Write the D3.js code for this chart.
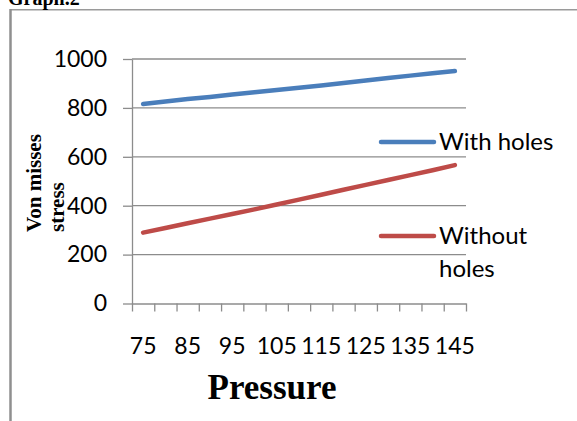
<!DOCTYPE html>
<html>
<head>
<meta charset="utf-8">
<script src="https://cdn.jsdelivr.net/npm/d3@7"></script>
<style>
  html, body { margin: 0; padding: 0; background: #fff; }
  svg { display: block; }
</style>
</head>
<body>
<div id="chart"></div>
<script>
const pressure = [75, 80, 85, 90, 95, 100, 105, 110, 115, 120, 125, 130, 135, 140, 145];
const withHoles = [816, 826, 836, 845, 855, 864, 873, 882, 892, 902, 912, 922, 932, 942, 951];
const withoutHoles = [290, 309, 328, 347, 366, 385, 405, 425, 445, 465, 485, 505, 525, 545, 566];
const yTicks = [0, 200, 400, 600, 800, 1000];
const xLabels = [75, 85, 95, 105, 115, 125, 135, 145];

const W = 577, H = 421;
const plot = { left: 132, right: 466, top: 59, bottom: 303.5 };
const gridColor = '#8c8c8c';

const svg = d3.select('#chart').append('svg')
  .attr('width', W)
  .attr('height', H);

// outer frame (partly cropped)
svg.append('line').attr('x1', 10).attr('x2', W).attr('y1', 9.75).attr('y2', 9.75)
  .attr('stroke', '#9a9a9a').attr('stroke-width', 1.5);
svg.append('line').attr('x1', 10.5).attr('x2', 10.5).attr('y1', 9).attr('y2', H)
  .attr('stroke', '#8f8f8f').attr('stroke-width', 2.5);

// title, cut at the top like the source
svg.append('text')
  .attr('x', 8).attr('y', 5)
  .style('font-family', '"Liberation Serif", "Times New Roman", serif')
  .style('font-weight', 'bold')
  .style('font-size', '20px')
  .text('Graph.2');

const x = d3.scaleBand().domain(pressure).range([plot.left, plot.right]).padding(0);
const xEdge = d3.scaleLinear().domain([0, pressure.length]).range([plot.left, plot.right]);
const y = d3.scaleLinear().domain([0, 1000]).range([plot.bottom, plot.top]);
const cx = d => x(d) + x.bandwidth() / 2;

const labelFont = sel => sel
  .style('font-family', 'Lato, "Noto Sans", sans-serif')
  .style('font-size', '23px')
  .attr('fill', '#000');

// gridlines
svg.append('g').selectAll('line').data(yTicks.filter(v => v > 0)).enter().append('line')
  .attr('x1', plot.left).attr('x2', plot.right)
  .attr('y1', d => y(d)).attr('y2', d => y(d))
  .attr('stroke', gridColor).attr('stroke-width', 1.3);

// y axis
const yAxis = svg.append('g')
  .attr('transform', `translate(${plot.left},0)`)
  .call(d3.axisLeft(y).tickValues(yTicks).tickFormat(d3.format('d')).tickSize(9).tickPadding(16).tickSizeOuter(0));
yAxis.select('.domain').attr('stroke', gridColor).attr('stroke-width', 1.3);
yAxis.selectAll('.tick line').attr('stroke', gridColor).attr('stroke-width', 1.3);
yAxis.selectAll('.tick text').call(labelFont);

// x axis ticks at category edges
const xAxis = svg.append('g')
  .attr('transform', `translate(0,${plot.bottom})`)
  .call(d3.axisBottom(xEdge).tickValues(d3.range(pressure.length + 1)).tickFormat('').tickSize(8).tickSizeOuter(0));
xAxis.select('.domain').attr('stroke', gridColor).attr('stroke-width', 1.3);
xAxis.selectAll('.tick line').attr('stroke', gridColor).attr('stroke-width', 1.3);

// x labels every other category
const xLab = svg.append('g')
  .attr('transform', `translate(0,${plot.bottom})`)
  .call(d3.axisBottom(x).tickValues(xLabels).tickSize(0).tickPadding(34));
xLab.select('.domain').remove();
xLab.selectAll('.tick text').call(labelFont);

// series
const line = d3.line().x((d, i) => cx(pressure[i])).y(d => y(d));
const series = [
  { name: 'With holes', values: withHoles, color: '#4a7ebb' },
  { name: 'Without holes', values: withoutHoles, color: '#be4b48' }
];
series.forEach(s => {
  svg.append('path')
    .datum(s.values)
    .attr('d', line)
    .attr('fill', 'none')
    .attr('stroke', s.color)
    .attr('stroke-width', 4.5)
    .attr('stroke-linecap', 'round')
    .attr('stroke-linejoin', 'round');
});

// legend
const legendRows = [
  { s: series[0], y: 142, lines: ['With holes'] },
  { s: series[1], y: 236, lines: ['Without', 'holes'] }
];
legendRows.forEach(r => {
  svg.append('line')
    .attr('x1', 381).attr('x2', 434)
    .attr('y1', r.y).attr('y2', r.y)
    .attr('stroke', r.s.color).attr('stroke-width', 4.5).attr('stroke-linecap', 'round');
  const t = svg.append('text').attr('x', 439).attr('y', r.y + 8)
    .style('font-family', 'Lato, "Noto Sans", sans-serif')
    .style('font-size', '24px')
    .attr('fill', '#000');
  r.lines.forEach((l, i) => {
    t.append('tspan').attr('x', 439).attr('dy', i === 0 ? 0 : 33).text(l);
  });
});

// axis titles
svg.append('text')
  .attr('x', 272).attr('y', 399)
  .attr('text-anchor', 'middle')
  .style('font-family', '"Liberation Serif", "Times New Roman", serif')
  .style('font-weight', 'bold')
  .style('font-size', '35px')
  .text('Pressure');

const yTitle = svg.append('text')
  .attr('transform', 'translate(41,232) rotate(-90)')
  .style('font-family', '"Liberation Serif", "Times New Roman", serif')
  .style('font-weight', 'bold')
  .style('font-size', '21px');
yTitle.append('tspan').attr('x', 0).attr('y', 0).text('Von misses');
yTitle.append('tspan').attr('x', 0).attr('y', 23).text('stress');
</script>
</body>
</html>
